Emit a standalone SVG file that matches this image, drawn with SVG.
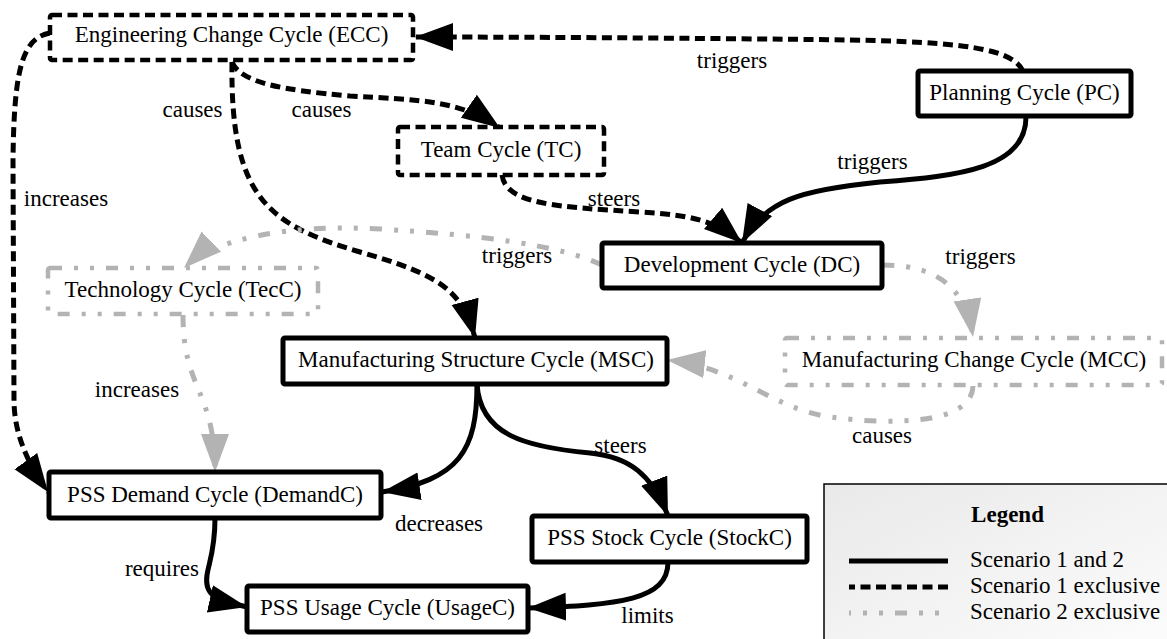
<svg xmlns="http://www.w3.org/2000/svg" width="1167" height="639" viewBox="0 0 1167 639">
<defs>
<style>
text{font-family:"Liberation Serif","Times New Roman",serif;font-size:23px;fill:#000}
.n{text-anchor:middle}
.box{fill:#fff;stroke:#000;stroke-width:5}
.bd{fill:#fff;stroke:#000;stroke-width:4.5;stroke-dasharray:10 5.5}
.bg{fill:#fff;stroke:#b3b3b3;stroke-width:4.5;stroke-dasharray:12 12 4 12 4 12}
.e{fill:none;stroke:#000;stroke-width:5}
.ed{fill:none;stroke:#000;stroke-width:5;stroke-dasharray:10 5.5}
.eg{fill:none;stroke:#b3b3b3;stroke-width:5;stroke-dasharray:12 12 4 12 4 12}
</style>
<marker id="ab" markerUnits="userSpaceOnUse" markerWidth="40" markerHeight="30" refX="38" refY="14" orient="auto"><path d="M0,0 L38,14 L0,28 z" fill="#000"/></marker>
<marker id="ag" markerUnits="userSpaceOnUse" markerWidth="40" markerHeight="30" refX="38" refY="14" orient="auto"><path d="M0,0 L38,14 L0,28 z" fill="#b3b3b3"/></marker>
<linearGradient id="lg" x1="0" y1="0" x2="1" y2="1"><stop offset="0" stop-color="#e9e9e9"/><stop offset="1" stop-color="#fdfdfd"/></linearGradient>
</defs>
<rect width="1167" height="639" fill="#fff"/>

<g id="connectors">
<path class="ed" d="M1023,71 C1012,48 960,42 850,40 C700,38 500,37 415,37" marker-end="url(#ab)"/>
<path class="ed" d="M232,62 C240,82 280,90 350,96 C420,100 460,100 500,128" marker-end="url(#ab)"/>
<path class="ed" d="M232,62 C230,200 270,225 360,252 C440,275 462,290 475,338" marker-end="url(#ab)"/>
<path class="ed" d="M50,33 C22,38 14,70 13,160 L14,400 C14,430 25,460 48,492" marker-end="url(#ab)"/>
<path class="e" d="M1026,117 C1026,168 960,176 880,182 C800,190 765,200 742,243" marker-end="url(#ab)"/>
<path class="ed" d="M502,175 C506,205 560,207 640,212 C690,215 715,220 742,243" marker-end="url(#ab)"/>
<path class="eg" d="M602,265 C560,245 480,235 380,229 C290,224 215,238 184,268" marker-end="url(#ag)"/>
<path class="eg" d="M882,265 C940,265 966,290 973,337" marker-end="url(#ag)"/>
<path class="eg" d="M973,386 C972,425 890,425 830,417 C770,408 740,368 667,360" marker-end="url(#ag)"/>
<path class="eg" d="M183,315 C183,390 215,390 215,472" marker-end="url(#ag)"/>
<path class="e" d="M477,384 C477,450 460,480 382,492" marker-end="url(#ab)"/>
<path class="e" d="M477,384 C480,435 525,447 590,453 C630,457 652,475 668,516" marker-end="url(#ab)"/>
<path class="e" d="M215,518 C215,550 209,562 207,575 C204,595 215,600 247,607" marker-end="url(#ab)"/>
<path class="e" d="M668,562 C668,600 620,605 528,608" marker-end="url(#ab)"/>
<text class="n" x="732" y="68">triggers</text>
<text class="n" x="192.5" y="117">causes</text>
<text class="n" x="321.5" y="117">causes</text>
<text class="n" x="872.5" y="168.5">triggers</text>
<text class="n" x="66" y="205.5">increases</text>
<text class="n" x="614" y="205.5">steers</text>
<text class="n" x="517" y="262.5">triggers</text>
<text class="n" x="980.5" y="263.5">triggers</text>
<text class="n" x="137" y="396.5">increases</text>
<text class="n" x="882" y="443">causes</text>
<text class="n" x="620.5" y="453">steers</text>
<text class="n" x="439" y="531">decreases</text>
<text class="n" x="162" y="576">requires</text>
<text class="n" x="647.5" y="623">limits</text>
</g>

<g id="ECC"><rect class="bd" x="50" y="15" width="363" height="45" rx="2"/><text class="n" x="231.5" y="42">Engineering Change Cycle (ECC)</text></g>
<g id="PC"><rect class="box" x="918" y="71" width="213" height="45" rx="2"/><text class="n" x="1024.5" y="100">Planning Cycle (PC)</text></g>
<g id="TC"><rect class="bd" x="398" y="127" width="206" height="48" rx="2"/><text class="n" x="501" y="157">Team Cycle (TC)</text></g>
<g id="DC"><rect class="box" x="602" y="243" width="280" height="45" rx="2"/><text class="n" x="742" y="271.5">Development Cycle (DC)</text></g>
<g id="TecC"><rect class="bg" x="48" y="268" width="270" height="46" rx="2"/><text class="n" x="183" y="297">Technology Cycle (TecC)</text></g>
<g id="MSC"><rect class="box" x="283" y="338" width="384" height="46" rx="2"/><text class="n" x="476" y="367">Manufacturing Structure Cycle (MSC)</text></g>
<g id="MCC"><rect class="bg" x="785" y="338" width="377" height="47" rx="2"/><text class="n" x="974" y="367">Manufacturing Change Cycle (MCC)</text></g>
<g id="DemandC"><rect class="box" x="49" y="472" width="332" height="46" rx="2"/><text class="n" x="215" y="502">PSS Demand Cycle (DemandC)</text></g>
<g id="StockC"><rect class="box" x="532" y="516" width="275" height="46" rx="2"/><text class="n" x="669.5" y="545">PSS Stock Cycle (StockC)</text></g>
<g id="UsageC"><rect class="box" x="247" y="586" width="281" height="46" rx="2"/><text class="n" x="387.5" y="615">PSS Usage Cycle (UsageC)</text></g>

<g id="legend">
<rect x="824" y="484" width="360" height="170" fill="url(#lg)" stroke="#000" stroke-width="1.5"/>
<text class="n" x="1007.5" y="522" font-weight="bold">Legend</text>
<line class="e" x1="849" y1="561" x2="948" y2="561"/>
<line class="ed" x1="849" y1="587" x2="948" y2="587" stroke-dashoffset="4"/>
<line class="eg" x1="849" y1="613" x2="948" y2="613" stroke-dashoffset="10"/>
<text x="970" y="567">Scenario 1 and 2</text>
<text x="970" y="593">Scenario 1 exclusive</text>
<text x="970" y="619">Scenario 2 exclusive</text>
</g>
</svg>
